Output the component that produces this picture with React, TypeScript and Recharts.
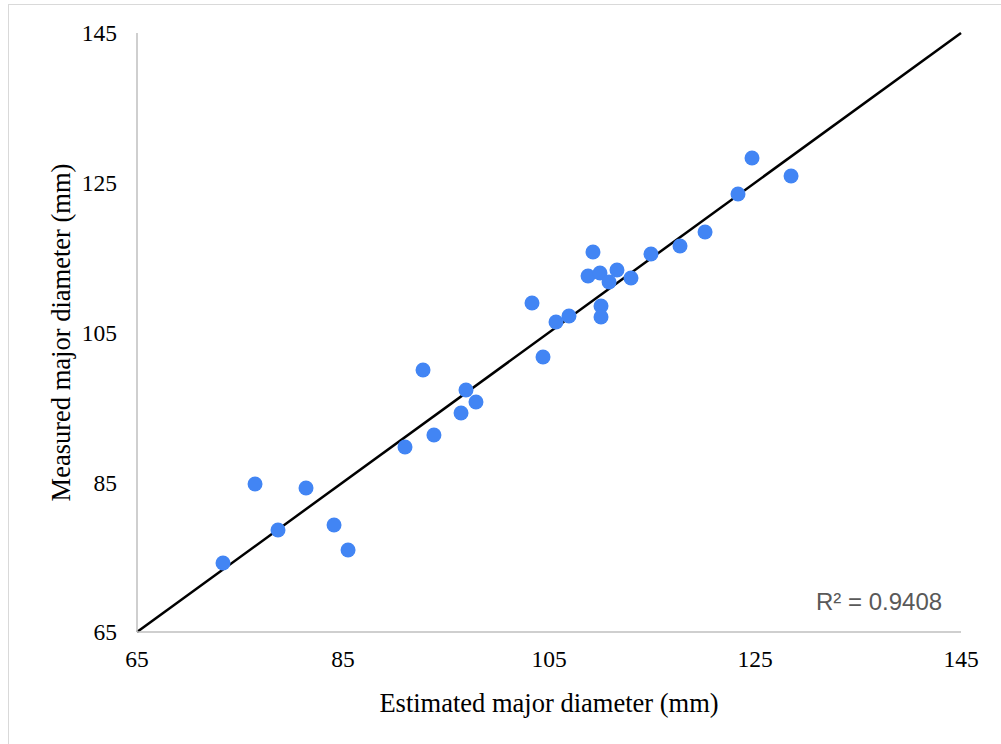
import React from 'react';
import {
  ScatterChart,
  Scatter,
  XAxis,
  YAxis,
  ReferenceLine,
} from 'recharts';

// estimated diameter (mm) for each sample
const estimated = [
  73.35, 76.46, 78.69, 81.41, 84.13, 85.49, 91.02, 92.77, 93.83, 96.46,
  96.94, 97.91, 103.35, 104.42, 105.68, 106.94, 108.79, 109.27, 109.95, 110.05,
  110.05, 110.83, 111.6, 112.96, 114.9, 117.72, 120.15, 123.35, 124.71, 128.5,
];

// measured diameter (mm) for each sample
const measured = [
  74.22, 84.77, 78.62, 84.23, 79.29, 75.95, 89.71, 99.99, 91.31, 94.25,
  97.32, 95.72, 108.94, 101.73, 106.4, 107.2, 112.55, 115.75, 112.95, 108.54,
  107.07, 111.74, 113.35, 112.28, 115.48, 116.55, 118.42, 123.5, 128.31, 125.9,
];

const axisTicks = [65, 85, 105, 125, 145];
const trendStart = 65;
const trendEnd = 145;
const rSquared = '0.9408';

const points = estimated.map((x, i) => ({ x, y: measured[i] }));

const tickStyle = {
  fontFamily: '"Liberation Serif", "Times New Roman", serif',
  fontSize: 23.5,
  fill: '#000',
};

const titleStyle = { ...tickStyle, fontSize: 26.5 };

export default function App() {
  return (
    <div
      style={{
        position: 'absolute',
        left: 0,
        top: 0,
        width: 1001,
        height: 744,
        background: '#fff',
        overflow: 'hidden',
      }}
    >
      <div
        style={{
          position: 'absolute',
          left: 8,
          top: 4,
          right: -2,
          bottom: -2,
          borderLeft: '1px solid #d9d9d9',
          borderTop: '1px solid #d9d9d9',
        }}
      />
      <ScatterChart
        width={1001}
        height={744}
        margin={{ top: 33, right: 40, bottom: 52, left: 77 }}
      >
        <XAxis
          type="number"
          dataKey="x"
          domain={[65, 145]}
          ticks={axisTicks}
          allowDataOverflow
          stroke="#bfbfbf"
          strokeWidth={1.5}
          tickLine={false}
          tickSize={0}
          tickMargin={18}
          tick={tickStyle}
          height={60}
          label={{
            value: 'Estimated major diameter (mm)',
            position: 'insideBottom',
            offset: -20,
            style: titleStyle,
          }}
        />
        <YAxis
          type="number"
          dataKey="y"
          domain={[65, 145]}
          ticks={axisTicks}
          allowDataOverflow
          stroke="#bfbfbf"
          strokeWidth={1.5}
          tickLine={false}
          tickSize={0}
          tickMargin={20}
          tick={tickStyle}
          width={60}
          label={{
            value: 'Measured major diameter (mm)',
            angle: -90,
            position: 'insideLeft',
            offset: -16,
            style: { ...titleStyle, textAnchor: 'middle' },
          }}
        />
        <Scatter
          data={points}
          isAnimationActive={false}
          shape={(props: any) => (
            <circle cx={props.cx} cy={props.cy} r={7.5} fill="#4285F4" />
          )}
        />
        <ReferenceLine
          segment={[
            { x: trendStart, y: trendStart },
            { x: trendEnd, y: trendEnd },
          ]}
          stroke="#000"
          strokeWidth={2.5}
        />
      </ScatterChart>
      <div
        style={{
          position: 'absolute',
          left: 816,
          top: 588,
          fontFamily: '"Liberation Sans", Arial, sans-serif',
          fontSize: 24,
          color: '#595959',
          whiteSpace: 'nowrap',
        }}
      >
        R² = {rSquared}
      </div>
    </div>
  );
}
